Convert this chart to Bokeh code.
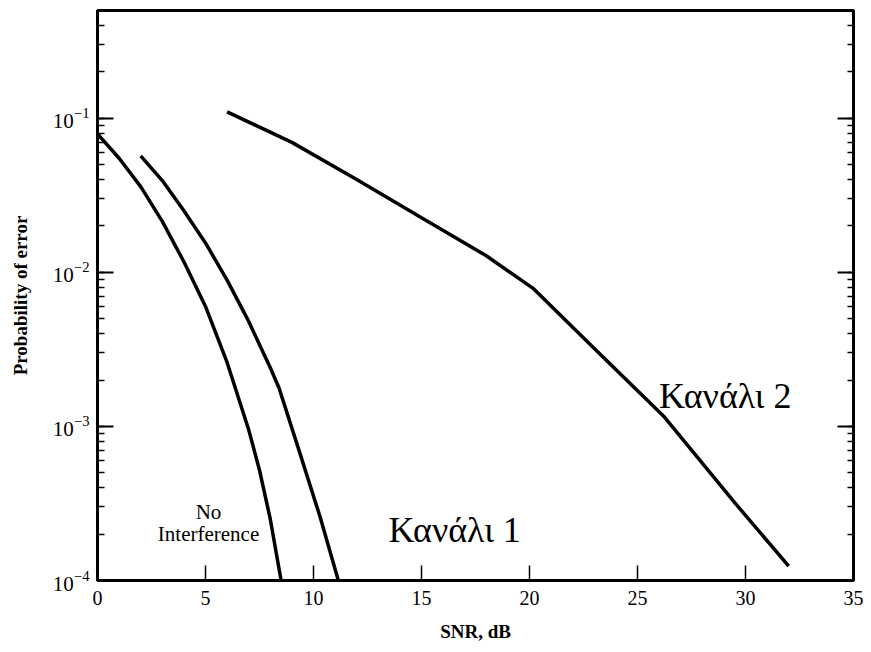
from bokeh.plotting import figure
from bokeh.models import Range1d, LogAxis, LogTicker, FixedTicker, ColumnDataSource
from bokeh.core.properties import value
from bokeh.embed import file_html
from bokeh.resources import INLINE

# ---- data ----
snr_none = [0, 1, 2, 3, 4, 5, 6, 7, 7.5, 8, 8.5]
pe_none = [0.079, 0.055, 0.036, 0.0214, 0.0117, 0.0060, 0.0026, 9.5e-4, 5.2e-4, 2.5e-4, 1.0e-4]

snr_ch1 = [2, 3, 4, 5, 6, 7, 8, 8.4, 9.3, 10.3, 11.15]
pe_ch1 = [0.0569, 0.0394, 0.0251, 0.0155, 0.0089, 0.0048, 0.0024, 0.00178, 7.2e-4, 2.6e-4, 1.0e-4]

snr_ch2 = [6, 9, 12, 15, 18, 20.2, 23, 26.2, 29.5, 32]
pe_ch2 = [0.110, 0.0697, 0.040, 0.0226, 0.0128, 0.0078, 0.0032, 0.00117, 3.2e-4, 1.24e-4]

x_ticks = [0, 5, 10, 15, 20, 25, 30, 35]

small_labels = ["No", "Interference"]
small_x = [5.14, 5.14]
small_y = [2.77e-4, 1.99e-4]
big_labels = ["Κανάλι 1", "Κανάλι 2"]
big_x = [13.47, 26.0]
big_y = [2.12e-4, 1.58e-3]

FONT = "Liberation Serif"

p = figure(width=863, height=644, y_axis_type="log",
           x_range=Range1d(0, 35), y_range=Range1d(1e-4, 0.5),
           output_backend="svg", toolbar_location=None,
           min_border_left=97, min_border_right=10,
           min_border_top=10, min_border_bottom=63)

p.grid.visible = False
p.outline_line_color = "black"
p.outline_line_width = 3
p.background_fill_color = "white"
p.border_fill_color = "white"

# x axis
xa = p.xaxis[0]
xa.ticker = FixedTicker(ticks=x_ticks)
xa.axis_label = "SNR, dB"
xa.axis_line_width = 3
xa.major_tick_in = 15
xa.major_tick_out = 0
xa.minor_tick_in = 0
xa.minor_tick_out = 0
xa.major_tick_line_width = 1.5
xa.major_label_standoff = 10
xa.axis_label_standoff = 13
xa.major_label_text_font = FONT
xa.major_label_text_font_size = "20px"
xa.major_label_text_color = "black"
xa.axis_label_text_font = FONT
xa.axis_label_text_font_size = "19px"
xa.axis_label_text_font_style = "bold"
xa.axis_label_text_color = "black"

# y axis
ya = p.yaxis[0]
ya.ticker = LogTicker(num_minor_ticks=10)
ya.axis_label = "Probability of error"
ya.axis_line_width = 3
ya.major_tick_in = 16
ya.major_tick_out = 0
ya.minor_tick_in = 7
ya.minor_tick_out = 0
ya.major_tick_line_width = 2
ya.minor_tick_line_width = 1.5
ya.major_label_standoff = 8
ya.axis_label_standoff = 19
ya.major_label_text_font = FONT
ya.major_label_text_font_size = "21px"
ya.major_label_text_color = "black"
ya.axis_label_text_font = FONT
ya.axis_label_text_font_size = "19px"
ya.axis_label_text_font_style = "bold"
ya.axis_label_text_color = "black"

# right axis with inward ticks, no visible labels
ra = LogAxis(ticker=LogTicker(num_minor_ticks=10))
ra.major_tick_in = 16
ra.major_tick_out = 0
ra.minor_tick_in = 6
ra.minor_tick_out = 0
ra.major_tick_line_width = 2
ra.minor_tick_line_width = 1.5
ra.axis_line_width = 3
ra.major_label_text_font_size = "2px"
ra.major_label_text_color = None
ra.major_label_standoff = 0
p.add_layout(ra, "right")

# curves
p.line(snr_none, pe_none, line_color="black", line_width=3.5, line_join="round")
p.line(snr_ch1, pe_ch1, line_color="black", line_width=3.5, line_join="round")
p.line(snr_ch2, pe_ch2, line_color="black", line_width=3.5, line_join="round")

# annotations
src_small = ColumnDataSource(dict(x=small_x, y=small_y, t=small_labels))
p.text(x="x", y="y", text="t", source=src_small, text_align="center",
       text_baseline="alphabetic", text_font=value(FONT),
       text_font_size=value("21px"), text_color="black")
src_big = ColumnDataSource(dict(x=big_x, y=big_y, t=big_labels))
p.text(x="x", y="y", text="t", source=src_big, text_align="left",
       text_baseline="alphabetic", text_font=value(FONT),
       text_font_size=value("36px"), text_color="black")

open("out.html", "w").write(file_html(p, INLINE))
